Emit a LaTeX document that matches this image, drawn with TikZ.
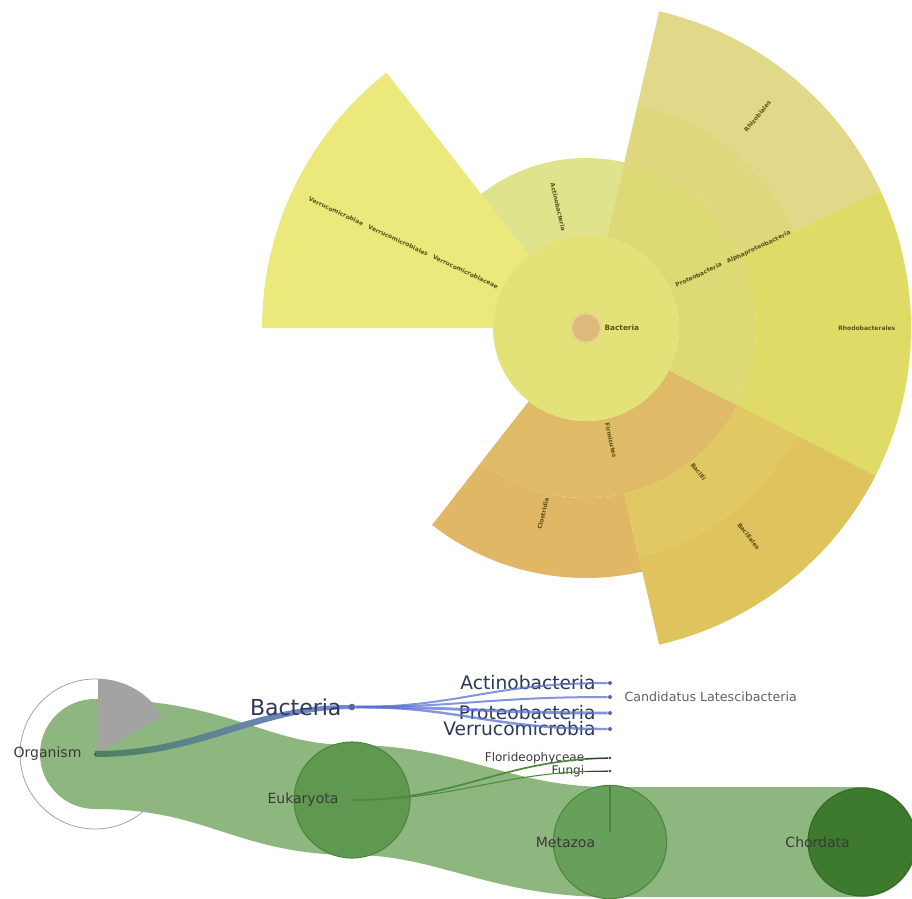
\documentclass[tikz,border=0pt]{standalone}
\usepackage{fontspec}
\newfontfamily\treefont{DejaVu Sans}
\usetikzlibrary{positioning}
\definecolor{wedgeTL}{HTML}{EBE87C}
\definecolor{wedgeLG}{HTML}{DEE38C}
\definecolor{diskY}{HTML}{E3E279}
\definecolor{coreO}{HTML}{DDB97C}
\definecolor{coreL}{HTML}{E8D492}
\definecolor{protY}{HTML}{DDD975}
\definecolor{upperB}{HTML}{DFD77C}
\definecolor{upperBo}{HTML}{E1D889}
\definecolor{rightY}{HTML}{E0DB66}
\definecolor{lowG}{HTML}{E1C862}
\definecolor{lowGo}{HTML}{DFC45E}
\definecolor{firmO}{HTML}{DFBB68}
\definecolor{closO}{HTML}{E0B865}
\definecolor{sunink}{HTML}{5A5218}
\definecolor{bandG}{HTML}{8DB77E}
\definecolor{eukG}{HTML}{5F9851}
\definecolor{eukE}{HTML}{4C8440}
\definecolor{metaG}{HTML}{67A05A}
\definecolor{chordG}{HTML}{3E7A2D}
\definecolor{ribG}{HTML}{4E7F5C}
\definecolor{ribB}{HTML}{7488DA}
\definecolor{linkB}{HTML}{5B70D2}
\definecolor{linkG}{HTML}{4D8A40}
\definecolor{nodeB}{HTML}{5566A8}
\definecolor{inkN}{HTML}{2E3858}
\definecolor{inkG}{HTML}{3A3A3A}
\definecolor{orgGray}{HTML}{A3A3A3}
\tikzset{
    sunlabel/.style = {inner sep=0, text=sunink, font=\treefont\bfseries\fontsize{4.5}{5}\selectfont},
    band/.style = {line width=82.5pt, line cap=round, draw=bandG},
    ball/.style = {circle, inner sep=0, line width=0.8pt},
    taxdot/.style = {circle, inner sep=0, minimum size=3pt, fill=#1},
    treelabel/.style = {inner sep=0, text=inkG, font=\treefont\fontsize{10.5}{12}\selectfont},
    phylum/.style = {inner sep=0, text=inkN, font=\treefont\fontsize{14}{16}\selectfont},
    leaflabel/.style = {inner sep=0, text=inkG, font=\treefont\fontsize{9}{10}\selectfont},
    bluelink/.style = {draw=linkB, opacity=0.75},
    greenlink/.style = {draw=linkG, line width=1.3pt}
}
\newcommand{\sunwedge}[5]{\fill[#1] (#2:#4) arc[start angle=#2, end angle=#3, radius=#4] -- (#3:#5) arc[start angle=#3, end angle=#2, radius=#5] -- cycle;}

\begin{document}
\begin{tikzpicture}[x=0.75pt, y=-0.75pt]
\useasboundingbox (0,0) rectangle (912,898);

% sunburst
\begin{scope}[shift={(586,328)}, x=0.75pt, y=0.75pt]
  \sunwedge{wedgeTL}{128}{180}{93}{324}
  \sunwedge{wedgeLG}{77}{128}{93}{170}
  \sunwedge{firmO}{-128}{-27}{93}{170}
  \sunwedge{closO}{-128}{-77}{170}{250}
  \sunwedge{protY}{-27}{77}{93}{170}
  \sunwedge{upperB}{25}{77}{170}{230}
  \sunwedge{upperBo}{25}{77}{230}{325}
  \sunwedge{rightY}{-27}{25}{170}{325}
  \sunwedge{lowG}{-77}{-27}{170}{235}
  \sunwedge{lowGo}{-77}{-27}{235}{325}
  \fill[diskY] (0,0) circle[radius=93];
  \node[ball, fill=coreO, draw=coreL, line width=1.5pt, minimum size=22pt] (core) at (0,0) {};
  \node[sunlabel, font=\treefont\bfseries\fontsize{5.5}{6}\selectfont, right=2pt of core] {Bacteria};
  \node[sunlabel, rotate=-25, anchor=east] at (155:97) {Verrucomicrobiae\quad Verrucomicrobiales\quad Verrucomicrobiaceae};
  \node[sunlabel, rotate=-77, anchor=east] at (103:99) {Actinobacteria};
  \node[sunlabel, rotate=25, anchor=west] at (25:99) {Proteobacteria\quad Alphaproteobacteria};
  \node[sunlabel, rotate=51, anchor=west] at (51:253) {Rhizobiales};
  \node[sunlabel, anchor=west] at (0:252) {Rhodobacterales};
  \node[sunlabel, rotate=-52, anchor=west] at (-52:172) {Bacilli};
  \node[sunlabel, rotate=-52, anchor=west] at (-52:248) {Bacillales};
  \node[sunlabel, rotate=-77.5, anchor=west] at (-77.5:97) {Firmicutes};
  \node[sunlabel, rotate=77, anchor=east] at (-103:174) {Clostridia};
\end{scope}

% tree of lineages
\coordinate (org) at (95,754);
\coordinate (euk) at (352,800);
\coordinate (meta) at (610,842);
\coordinate (chord) at (862,842);
\coordinate (bact) at (352,707);

\draw[band] (org) .. controls (220,754) and (250,800) .. (euk)
  .. controls (450,800) and (500,842) .. (meta) -- (chord);
\draw[orgGray, line width=0.6pt] (org) circle[radius=75];
\begin{scope}[shift={(98,753)}, x=0.75pt, y=0.75pt]
  \fill[orgGray] (0,0) -- (90:74) arc[start angle=90, end angle=30, radius=74] -- cycle;
\end{scope}
\shade[left color=ribG, right color=ribB]
  (95,751) .. controls (200,751) and (250,704) .. (352,705)
  -- (352,709) .. controls (255,710) and (205,757) .. (95,757) -- cycle;

\node[ball, fill=eukG, draw=eukE, minimum size=87pt] (eukball) at (euk) {};
\node[ball, fill=metaG, draw=eukE, minimum size=85pt] (metaball) at (meta) {};
\draw[eukE, line width=0.8pt] (metaball.north) -- (610,832);
\node[ball, fill=chordG, draw=chordG!85!black, minimum size=81pt] (chordball) at (chord) {};

\node[taxdot=inkG, minimum size=1.5pt] (orgdot) at (org) {};
\node[treelabel, anchor=east, xshift=-10pt] at (org) {Organism};
\node[treelabel, anchor=east, xshift=-10pt] at (euk) {Eukaryota};
\node[treelabel, anchor=east, xshift=-11pt] at (meta) {Metazoa};
\node[treelabel, anchor=east, xshift=-9pt] at (chord) {Chordata};

% bacterial branch
\node[taxdot=nodeB, minimum size=5pt] (bactdot) at (bact) {};
\node[phylum, font=\treefont\fontsize{16.5}{18}\selectfont, left=5pt of bactdot] {Bacteria};
\node[taxdot=nodeB] (act) at (610,683) {};
\node[taxdot=nodeB] (cand) at (610,697) {};
\node[taxdot=nodeB] (prot) at (610,713) {};
\node[taxdot=nodeB] (verr) at (610,729) {};
\node[phylum, left=9pt of act] {Actinobacteria};
\node[phylum, left=9pt of prot] {Proteobacteria};
\node[phylum, left=9pt of verr] {Verrucomicrobia};
\node[leaflabel, text=inkG!80, font=\treefont\fontsize{9.5}{11}\selectfont, right=9pt of cand] {Candidatus Latescibacteria};
\draw[bluelink, line width=1.5pt] (bactdot) .. controls (460,707) and (490,683) .. (act);
\draw[bluelink, line width=1.5pt] (bactdot) .. controls (460,707) and (490,697) .. (cand);
\draw[bluelink, line width=2.2pt] (bactdot) .. controls (460,707) and (490,713) .. (prot);
\draw[bluelink, line width=1.8pt] (bactdot) .. controls (460,707) and (490,729) .. (verr);

% eukaryotic leaves
\node[taxdot=inkG, minimum size=2pt] (flor) at (610,758) {};
\node[taxdot=inkG, minimum size=2pt] (fung) at (610,771) {};
\node[leaflabel, left=18pt of flor] {Florideophyceae};
\node[leaflabel, left=18pt of fung] {Fungi};
\draw[greenlink] (euk) .. controls (460,800) and (500,760) .. (flor);
\draw[greenlink, line width=0.8pt] (euk) .. controls (460,800) and (500,771) .. (fung);
\draw[inkG, line width=0.5pt] (flor.west) -- ++(-17pt,0);
\draw[inkG, line width=0.5pt] (fung.west) -- ++(-17pt,0);
\end{tikzpicture}
\end{document}
